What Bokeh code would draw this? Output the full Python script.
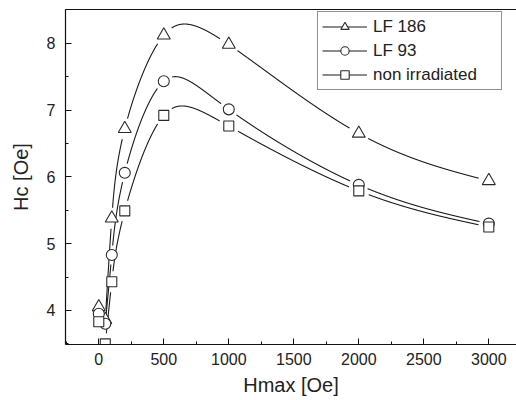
import numpy as np
from bokeh.plotting import figure
from bokeh.models import Range1d, LinearAxis, FixedTicker, Legend, LegendItem, SingleIntervalTicker
from bokeh.embed import file_html
from bokeh.resources import INLINE

# ---- data ----
hmax = [0, 50, 100, 200, 500, 1000, 2000, 3000]
lf186 = [4.05, 3.86, 5.38, 6.72, 8.12, 7.98, 6.65, 5.94]
lf93 = [3.95, 3.80, 4.83, 6.06, 7.43, 7.01, 5.88, 5.30]
non_irr = [3.83, 3.50, 4.43, 5.49, 6.92, 6.76, 5.79, 5.25]
labels = ["LF 186", "LF 93", "non irradiated"]

FONT = "Liberation Sans"
TXT = "#222222"
X0, X1 = -256, 3213
Y0, Y1 = 3.49, 8.505
W, H = 516, 400
BL, BR, BT, BB = 65, 0, 9, 56
FW, FH = W - BL - BR, H - BT - BB
sx = FW / (X1 - X0)
sy = FH / (Y1 - Y0)


def natural_spline(xs, ys, xq):
    xs = np.asarray(xs, float); ys = np.asarray(ys, float)
    n = len(xs); h = np.diff(xs)
    A = np.zeros((n, n)); r = np.zeros(n)
    A[0, 0] = 1; A[-1, -1] = 1
    for i in range(1, n - 1):
        A[i, i - 1] = h[i - 1]; A[i, i] = 2 * (h[i - 1] + h[i]); A[i, i + 1] = h[i]
        r[i] = 3 * ((ys[i + 1] - ys[i]) / h[i] - (ys[i] - ys[i - 1]) / h[i - 1])
    c = np.linalg.solve(A, r)
    b = (ys[1:] - ys[:-1]) / h - h * (2 * c[:-1] + c[1:]) / 3
    d = (c[1:] - c[:-1]) / (3 * h)
    idx = np.clip(np.searchsorted(xs, xq) - 1, 0, n - 2)
    t = xq - xs[idx]
    return ys[idx] + b[idx] * t + c[idx] * t ** 2 + d[idx] * t ** 3


def curve(xs, ys, gap):
    xs = np.asarray(xs[1:], float); ys = np.asarray(ys[1:], float)
    t = np.arange(len(xs), dtype=float)
    tq = np.linspace(0, t[-1], 6000)
    xq = natural_spline(t, xs, tq)
    yq = natural_spline(t, ys, tq)
    dist = np.min(np.hypot((xq[:, None] - xs[None, :]) * sx,
                           (yq[:, None] - ys[None, :]) * sy), axis=1)
    yq = np.where(dist < gap, np.nan, yq)
    return xq, yq


p = figure(width=W, height=H, output_backend="svg", toolbar_location=None,
           x_range=Range1d(X0, X1), y_range=Range1d(Y0, Y1),
           min_border_left=BL, min_border_right=BR, min_border_top=BT,
           min_border_bottom=BB, background_fill_color="white",
           border_fill_color="white")
p.outline_line_color = None
p.grid.visible = False

xax = p.below[0]
yax = p.left[0]

top = LinearAxis(ticker=FixedTicker(ticks=[]), major_label_text_font_size="0px",
                 major_tick_in=0, major_tick_out=0, minor_tick_in=0, minor_tick_out=0,
                 major_label_standoff=0, axis_line_color="#111111", axis_line_width=1.2)
p.add_layout(top, "above")

for ax in (xax, yax):
    ax.axis_line_color = "#111111"
    ax.axis_line_width = 1.2
    ax.major_tick_line_color = "#111111"
    ax.minor_tick_line_color = "#111111"
    ax.major_tick_in = 6
    ax.major_tick_out = 0
    ax.minor_tick_in = 3
    ax.minor_tick_out = 0
    ax.major_label_text_font = FONT
    ax.major_label_text_font_size = "16px"
    ax.major_label_text_color = TXT
    ax.axis_label_text_font = FONT
    ax.axis_label_text_font_size = "20px"
    ax.axis_label_text_font_style = "normal"
    ax.axis_label_text_color = TXT

xax.ticker = SingleIntervalTicker(interval=500, num_minor_ticks=2)
yax.ticker = SingleIntervalTicker(interval=1, num_minor_ticks=2)
xax.axis_label = "Hmax [Oe]"
yax.axis_label = "Hc [Oe]"
xax.major_label_standoff = 8
xax.axis_label_standoff = 6
yax.major_label_standoff = 10
yax.axis_label_standoff = 12

series = [(lf186, "triangle", 13, 10.5), (lf93, "circle", 11, 9.5), (non_irr, "square", 10, 10.5)]
items = []
for (ys, mk, sz, gap), lab in zip(series, labels):
    xq, yq = curve(hmax, ys, gap)
    p.line(xq, yq, line_color="#1a1a1a", line_width=1.1)

for (ys, mk, sz, gap), lab in zip(series, labels):
    sc = p.scatter(hmax, ys, marker=mk, size=sz, fill_color="white",
                   line_color="#2a2a2a", line_width=1.1)
    lg = p.line([0, 1], [0, 1], line_color="#1a1a1a", line_width=1.1)
    lg.visible = False
    items.append(LegendItem(label=lab, renderers=[lg, sc]))

legend = Legend(items=items, location=(252, 254), padding=4, spacing=3,
                glyph_width=45, glyph_height=21, label_height=21, label_width=124,
                label_standoff=6, margin=0,
                label_text_font=FONT, label_text_font_size="17px",
                label_text_color=TXT, border_line_color="#222222",
                border_line_width=1, background_fill_alpha=1.0,
                click_policy="none")
p.add_layout(legend, "center")

open("out.html", "w").write(file_html(p, INLINE))
